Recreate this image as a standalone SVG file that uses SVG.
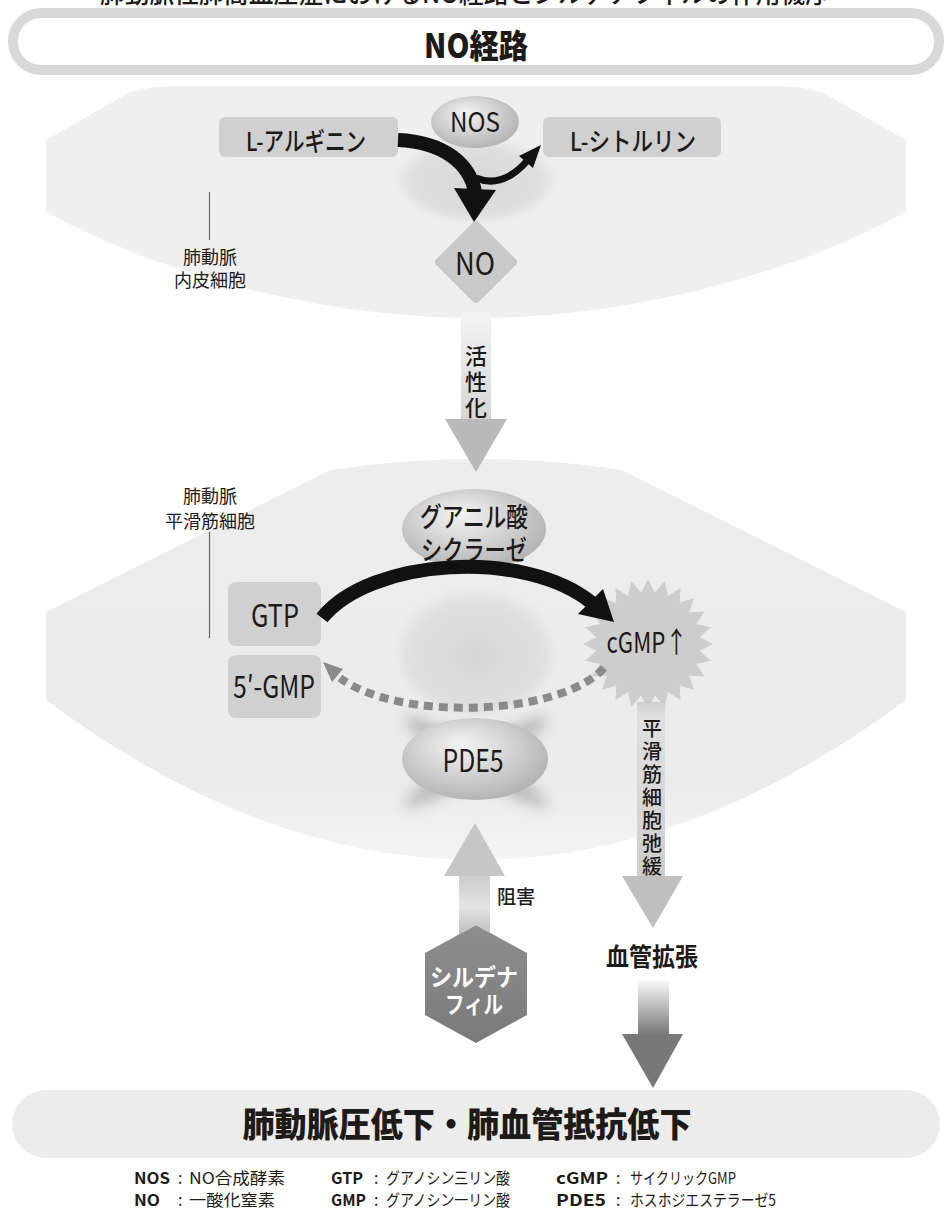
<svg xmlns="http://www.w3.org/2000/svg" width="952" height="1216" viewBox="0 0 952 1216">
<defs>
<style>
.jp{font-family:"Noto Sans CJK JP","Noto Sans",sans-serif;fill:#1e1a18}
.lab{font-size:26px;font-weight:500}
.small{font-size:18px;font-weight:400;text-anchor:middle}
.vt{font-size:22px;font-weight:500;text-anchor:middle}
.vt2{font-size:20px;font-weight:500;text-anchor:middle}
.leg{font-size:16px;font-weight:400}
.legb{font-size:16px;font-weight:700}
.box{fill:#d0d0d0}
.sph{fill:url(#sph)}
.lead{stroke:#666;stroke-width:1.2;fill:none}
</style>
<radialGradient id="sph" cx="0.45" cy="0.42" r="0.6" fx="0.4" fy="0.3">
<stop offset="0" stop-color="#f4f4f4"/>
<stop offset="0.55" stop-color="#d2d2d2"/>
<stop offset="1" stop-color="#b2b2b2"/>
</radialGradient>
<radialGradient id="ghost" cx="0.5" cy="0.55" r="0.55">
<stop offset="0" stop-color="#d6d6d6"/>
<stop offset="0.8" stop-color="#e0e0e0"/>
<stop offset="1" stop-color="#e6e6e6" stop-opacity="0"/>
</radialGradient>
<linearGradient id="barAct" x1="0" y1="0" x2="0" y2="1">
<stop offset="0" stop-color="#f4f4f4"/>
<stop offset="1" stop-color="#d6d6d6"/>
</linearGradient>
<linearGradient id="barRel" x1="0" y1="0" x2="0" y2="1">
<stop offset="0" stop-color="#cdcdcd"/>
<stop offset="0.08" stop-color="#e0e0e0"/>
<stop offset="1" stop-color="#cdcdcd"/>
</linearGradient>
<linearGradient id="barInh" x1="0" y1="0" x2="0" y2="1">
<stop offset="0" stop-color="#cccccc"/>
<stop offset="0.55" stop-color="#e4e4e4"/>
<stop offset="1" stop-color="#bdbdbd"/>
</linearGradient>
<linearGradient id="barDark" x1="0" y1="0" x2="0" y2="1">
<stop offset="0" stop-color="#fafafa"/>
<stop offset="1" stop-color="#767676"/>
</linearGradient>
<linearGradient id="hexg" x1="0" y1="0" x2="0" y2="1">
<stop offset="0" stop-color="#8e8e8e"/>
<stop offset="1" stop-color="#7a7a7a"/>
</linearGradient>
<linearGradient id="smc" x1="0" y1="0" x2="0" y2="1">
<stop offset="0" stop-color="#ededed"/>
<stop offset="0.8" stop-color="#ebebeb"/>
<stop offset="1" stop-color="#f4f4f4"/>
</linearGradient>
<filter id="blur" x="-50%" y="-50%" width="200%" height="200%"><feGaussianBlur stdDeviation="7"/></filter>
<filter id="blur2" x="-30%" y="-30%" width="160%" height="160%"><feGaussianBlur stdDeviation="3"/></filter>
</defs>

<rect width="952" height="1216" fill="#ffffff"/>

<!-- cut-off heading (only its lower edge is visible in the reference) -->
<text class="jp" x="100" y="3" font-size="26" font-weight="500" textLength="730" lengthAdjust="spacingAndGlyphs">肺動脈性肺高血圧症におけるNO経路とシルデナフィルの作用機序</text>

<!-- title bar -->
<g id="title">
<rect x="13" y="13" width="926" height="57" rx="28" fill="#ffffff" stroke="#d8d8d8" stroke-width="10"/>
<text class="jp" x="476" y="58" font-size="33" font-weight="900" text-anchor="middle" textLength="104" lengthAdjust="spacingAndGlyphs">NO経路</text>
</g>

<!-- cells -->
<g id="endothelial-cell">
<path d="M46,140 L130,92 Q150,86 180,86 L772,86 Q802,86 822,92 L906,140 L906,212 C780,280 620,318 476,318 C332,318 172,280 46,212 Z" fill="#efefef"/>
<ellipse cx="476" cy="178" rx="78" ry="42" fill="url(#ghost)" filter="url(#blur2)"/>
<line class="lead" x1="209.5" y1="192" x2="209.5" y2="240"/>
<text class="jp small" x="210" y="264">肺動脈</text>
<text class="jp small" x="210" y="287">内皮細胞</text>
</g>

<g id="smooth-muscle-cell">
<path d="M46,612 L330,470 Q476,448 622,470 L906,612 L906,700 Q476,1020 46,700 Z" fill="url(#smc)"/>
<ellipse cx="476" cy="650" rx="78" ry="64" fill="url(#ghost)" filter="url(#blur2)"/>
<g filter="url(#blur)" opacity="0.5">
<ellipse cx="476" cy="762" rx="84" ry="13" fill="#8a8a8a" transform="rotate(32 476 762)"/>
<ellipse cx="476" cy="762" rx="84" ry="13" fill="#8a8a8a" transform="rotate(-32 476 762)"/>
</g>
<line class="lead" x1="209.5" y1="532" x2="209.5" y2="638"/>
<text class="jp small" x="210" y="503">肺動脈</text>
<text class="jp small" x="210" y="528">平滑筋細胞</text>
</g>

<!-- nodes -->
<g id="node-l-arginine">
<rect class="box" x="219" y="117" width="179" height="40" rx="6"/>
<text class="jp lab" x="246" y="151" textLength="120" lengthAdjust="spacingAndGlyphs">L-アルギニン</text>
</g>
<g id="node-l-citrulline">
<rect class="box" x="543" y="117" width="178" height="40" rx="6"/>
<text class="jp lab" x="570" y="151" textLength="126" lengthAdjust="spacingAndGlyphs">L-シトルリン</text>
</g>
<g id="node-nos">
<ellipse class="sph" cx="475" cy="122" rx="44" ry="26"/>
<text class="jp" x="475" y="132" font-size="27" text-anchor="middle" textLength="50" lengthAdjust="spacingAndGlyphs">NOS</text>
</g>
<g id="node-no">
<polygon points="476,225 513,262 476,299 439,262" fill="#c9c9c9" stroke="#c9c9c9" stroke-width="8" stroke-linejoin="round"/>
<text class="jp" x="475" y="275" font-size="31" text-anchor="middle" textLength="40" lengthAdjust="spacingAndGlyphs">NO</text>
</g>
<g id="node-gc">
<ellipse class="sph" cx="474" cy="529" rx="72" ry="40"/>
<text class="jp" x="474" y="527" font-size="27" font-weight="500" text-anchor="middle" textLength="108" lengthAdjust="spacingAndGlyphs">グアニル酸</text>
<text class="jp" x="474" y="560" font-size="27" font-weight="500" text-anchor="middle" textLength="106" lengthAdjust="spacingAndGlyphs">シクラーゼ</text>
</g>
<g id="node-gtp">
<rect class="box" x="228" y="582" width="93" height="64" rx="8"/>
<text class="jp" x="275" y="627" font-size="31" text-anchor="middle" textLength="48" lengthAdjust="spacingAndGlyphs">GTP</text>
</g>
<g id="node-5gmp">
<rect class="box" x="228" y="655" width="93" height="63" rx="8"/>
<text class="jp" x="274" y="698" font-size="31" text-anchor="middle" textLength="82" lengthAdjust="spacingAndGlyphs">5′-GMP</text>
</g>
<g id="node-cgmp">
<polygon fill="#cdcdcd" points="713,644 699.6,650.8 710.8,660.8 696,663.9 704.3,676.5 689.3,675.7 694,690 679.7,685.3 680.5,700.3 667.9,692 664.8,706.8 654.8,695.6 648,709 641.2,695.6 631.2,706.8 628.1,692 615.5,700.3 616.3,685.3 602,690 606.7,675.7 591.7,676.5 600,663.9 585.2,660.8 596.4,650.8 583,644 596.4,637.2 585.2,627.2 600,624.1 591.7,611.5 606.7,612.3 602,598 616.3,602.7 615.5,587.7 628.1,596 631.2,581.2 641.2,592.4 648,579 654.8,592.4 664.8,581.2 667.9,596 680.5,587.7 679.7,602.7 694,598 689.3,612.3 704.3,611.5 696,624.1 710.8,627.2 699.6,637.2"/>
<text class="jp" x="647" y="653" font-size="29" text-anchor="middle" textLength="81" lengthAdjust="spacingAndGlyphs">cGMP↑</text>
</g>
<g id="node-pde5">
<ellipse class="sph" cx="475" cy="759" rx="73" ry="41"/>
<text class="jp" x="473" y="772" font-size="31" text-anchor="middle" textLength="61" lengthAdjust="spacingAndGlyphs">PDE5</text>
</g>
<g id="node-sildenafil">
<polygon points="476,925 527,953 527,1015 476,1043 425,1015 425,953" fill="url(#hexg)"/>
<text class="jp" x="474" y="986" font-size="24" font-weight="700" text-anchor="middle" style="fill:#ffffff" textLength="88" lengthAdjust="spacingAndGlyphs">シルデナ</text>
<text class="jp" x="474" y="1013" font-size="24" font-weight="700" text-anchor="middle" style="fill:#ffffff" textLength="58" lengthAdjust="spacingAndGlyphs">フィル</text>
</g>
<g id="node-vasodilation">
<text class="jp" x="652" y="966" font-size="25" font-weight="700" text-anchor="middle" textLength="92" lengthAdjust="spacingAndGlyphs">血管拡張</text>
</g>
<g id="node-result">
<rect x="12" y="1090" width="928" height="68" rx="34" fill="#ececec"/>
<text class="jp" x="467" y="1137" font-size="34" font-weight="900" text-anchor="middle" textLength="449" lengthAdjust="spacingAndGlyphs">肺動脈圧低下・肺血管抵抗低下</text>
</g>

<!-- connectors -->
<g id="connectors">
<!-- L-arginine -> NO (NOS) -->
<path d="M398,140 C444,142 470,164 475,192" fill="none" stroke="#111" stroke-width="14"/>
<polygon points="454,188 496,190 474,222" fill="#111"/>
<path d="M476,178 C495,186 512,178 527,161" fill="none" stroke="#111" stroke-width="7"/>
<polygon points="541,145 533,168 519,156" fill="#111"/>
<!-- activation -->
<rect x="461" y="312" width="30" height="108" fill="url(#barAct)"/>
<polygon points="445,419 507,419 476,472" fill="#b9b9b9"/>
<text class="jp vt"><tspan x="476" y="364">活</tspan><tspan x="476" y="390">性</tspan><tspan x="476" y="416">化</tspan></text>
<!-- GTP -> cGMP -->
<path d="M322,618 C370,558 525,548 592,603" fill="none" stroke="#111" stroke-width="14"/>
<polygon points="603,589 614,622 578,614" fill="#111"/>
<!-- cGMP -> 5'-GMP (PDE5) -->
<path d="M604,668 C560,716 400,722 340,678" fill="none" stroke="#8a8a8a" stroke-width="8" stroke-dasharray="9 6"/>
<polygon points="323,662 343,669 332,682" fill="#8a8a8a"/>
<!-- relaxation -->
<rect x="637" y="702" width="28" height="175" fill="url(#barRel)"/>
<polygon points="622,876 683,876 653,928" fill="#bfbfbf"/>
<text class="jp vt2"><tspan x="652" y="736">平</tspan><tspan x="652" y="759">滑</tspan><tspan x="652" y="782">筋</tspan><tspan x="652" y="805">細</tspan><tspan x="652" y="828">胞</tspan><tspan x="652" y="851">弛</tspan><tspan x="652" y="874">緩</tspan></text>
<!-- inhibition -->
<polygon points="459,875 490,875 490,932.7 476,925 459,934.3" fill="url(#barInh)"/>
<polygon points="444,876 505,876 475,823" fill="#c6c6c6"/>
<text class="jp" x="497" y="904" font-size="19" font-weight="500">阻害</text>
<!-- vasodilation -> result -->
<rect x="638" y="980" width="31" height="55" fill="url(#barDark)"/>
<polygon points="622,1034 683,1034 653,1088" fill="#787878"/>
</g>

<!-- legend -->
<g id="legend">
<text class="jp legb" x="134" y="1184" textLength="36" lengthAdjust="spacingAndGlyphs">NOS</text>
<text class="jp leg" x="178" y="1184">:</text>
<text class="jp leg" x="189" y="1184" textLength="96" lengthAdjust="spacingAndGlyphs">NO合成酵素</text>
<text class="jp legb" x="134" y="1206" textLength="26" lengthAdjust="spacingAndGlyphs">NO</text>
<text class="jp leg" x="178" y="1206">:</text>
<text class="jp leg" x="189" y="1206" textLength="86" lengthAdjust="spacingAndGlyphs">一酸化窒素</text>
<text class="jp legb" x="331" y="1184" textLength="32" lengthAdjust="spacingAndGlyphs">GTP</text>
<text class="jp leg" x="374" y="1184">:</text>
<text class="jp leg" x="386" y="1184" textLength="124" lengthAdjust="spacingAndGlyphs">グアノシン三リン酸</text>
<text class="jp legb" x="331" y="1206" textLength="35" lengthAdjust="spacingAndGlyphs">GMP</text>
<text class="jp leg" x="374" y="1206">:</text>
<text class="jp leg" x="386" y="1206" textLength="124" lengthAdjust="spacingAndGlyphs">グアノシン一リン酸</text>
<text class="jp legb" x="556" y="1184" textLength="52" lengthAdjust="spacingAndGlyphs">cGMP</text>
<text class="jp leg" x="616" y="1184">:</text>
<text class="jp leg" x="630" y="1184" textLength="106" lengthAdjust="spacingAndGlyphs">サイクリックGMP</text>
<text class="jp legb" x="556" y="1206" textLength="50" lengthAdjust="spacingAndGlyphs">PDE5</text>
<text class="jp leg" x="616" y="1206">:</text>
<text class="jp leg" x="630" y="1206" textLength="146" lengthAdjust="spacingAndGlyphs">ホスホジエステラーゼ5</text>
</g>
</svg>
